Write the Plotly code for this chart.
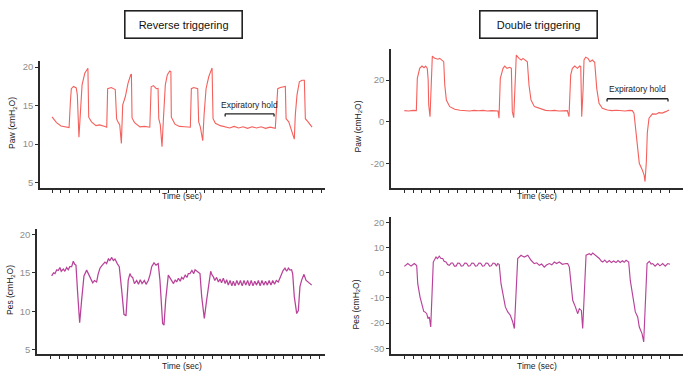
import plotly.graph_objects as go

# ---------------- data (time in s, pressure in cmH2O) ----------------
paw_rev_t = [0.0, 0.5, 1.0, 1.5, 1.9, 2.05, 2.15, 2.4, 2.7, 2.82, 3.0, 3.15, 3.35, 3.65, 3.85, 4.0, 4.09,
             4.4, 4.9, 5.3, 5.9, 6.1, 6.2, 6.6, 7.05, 7.2, 7.3, 7.55, 7.73, 7.88, 8.17, 8.47, 8.77, 8.85,
             8.92, 9.2, 9.8, 10.3, 10.9, 11.05, 11.3, 11.63, 11.82, 11.9, 12.07, 12.26, 12.41, 12.63, 12.85,
             13.12, 13.25, 13.3, 13.7, 14.2, 14.8, 15.42, 15.53, 15.8, 16.24, 16.35, 16.53, 16.8, 16.95,
             17.17, 17.47, 17.84, 17.95, 18.21, 18.76, 19.3, 19.8, 20.3, 20.8, 21.3, 21.8, 22.3, 22.8, 23.3,
             23.8, 24.3, 24.89, 25.16, 25.45, 26.01, 26.09, 26.39, 27.01, 27.12, 27.31, 27.57, 27.87, 28.13,
             28.24, 28.54, 28.99]
paw_rev_v = [13.55, 12.8, 12.35, 12.2, 12.15, 15.5, 17.2, 17.5, 17.3, 16.4, 10.9, 13.8, 17.7, 19.2, 19.5, 19.85, 13.5,
             12.9, 12.4, 12.5, 12.3, 12.2, 17.2, 17.35, 17.1, 13.3, 13.0, 12.5, 10.1, 15.1, 16.15, 17.9, 19.0, 19.1,
             13.4, 12.8, 12.25, 12.3, 12.2, 17.45, 17.6, 17.2, 17.25, 13.3, 12.5, 9.65, 13.1, 17.7, 19.0,
             19.5, 19.4, 13.5, 12.6, 12.3, 12.25, 12.2, 17.2, 17.35, 17.2, 12.9, 12.25, 10.45, 13.8,
             17.2, 18.75, 19.9, 13.3, 12.7, 12.4, 12.2, 12.1, 12.3, 12.1, 12.25, 12.05, 12.25, 12.1, 12.25,
             12.05, 12.2, 12.05, 17.2, 17.35, 17.5, 13.3, 12.9, 10.65, 13.8, 16.4, 18.1, 18.3, 18.3,
             13.3, 12.9, 12.2]

paw_dbl_t = [0.0, 0.5, 1.0, 1.36, 1.47, 1.74, 2.0, 2.23, 2.42, 2.6, 2.7, 2.76, 2.91, 3.05, 3.17, 3.44, 3.82, 4.01,
             4.3, 4.46, 4.58, 4.76, 5.14, 5.71, 6.3, 6.84, 7.4, 7.9, 8.4, 8.9, 9.4, 9.9, 10.3, 10.61, 10.72,
             10.87, 11.18, 11.37, 11.63, 11.94, 12.12, 12.23, 12.39, 12.55, 12.68, 12.99, 13.25, 13.44, 13.75,
             13.93, 14.12, 14.35, 14.73, 15.47, 16.0, 16.5, 17.0, 17.5, 18.0, 18.46, 18.65, 18.84, 19.03, 19.3,
             19.6, 19.86, 19.98, 20.09, 20.24, 20.35, 20.54, 20.8, 21.03, 21.29, 21.56, 21.79, 22.05, 22.42,
             22.99, 23.5, 24.0, 24.51, 25.0, 25.5, 25.82, 26.01, 26.24, 26.61, 26.95, 27.15, 27.26, 27.41,
             27.52, 27.71, 28.09, 28.5, 28.84, 29.2, 29.6, 29.98]
paw_dbl_v = [5.3, 5.1, 5.4, 5.3, 20.8, 25.6, 26.7, 25.9, 26.7, 25.6, 20.0, 8.0, 2.4, 15.0, 31.5, 30.4, 30.0, 30.4,
             29.3, 28.8, 17.6, 10.4, 7.2, 5.95, 5.5, 5.3, 5.1, 5.4, 5.2, 5.4, 5.1, 5.3, 5.2, 5.1, 1.6,
             20.8, 25.6, 26.7, 25.6, 26.1, 25.6, 4.8, 1.9, 20.0, 32.0, 30.4, 29.6, 30.4, 29.1,
             28.8, 17.5, 10.4, 7.2, 5.95, 5.4, 5.2, 5.4, 5.1, 5.3, 5.3, 2.4, 22.4, 25.6, 26.7,
             25.6, 26.7, 26.4, 2.4, 15.0, 29.6, 30.9, 30.4, 28.8, 29.6, 28.5, 16.0, 8.8, 6.4,
             5.6, 5.3, 5.5, 5.3, 5.1, 5.4, 5.3, 4.0, -5.0, -20.0, -23.2, -25.6, -28.8, -19.2,
             -5.2, 1.6, 3.7, 3.6, 4.3, 4.1, 4.8, 5.6]

pes_rev_t = [0.13, 0.35, 0.5, 0.7, 0.87, 1.05, 1.2, 1.43, 1.6, 1.8, 1.98, 2.15, 2.36, 2.54, 2.7, 2.84, 3.03, 3.25,
             3.47, 3.73, 4.03, 4.32, 4.5, 4.7, 4.9, 5.14, 5.3, 5.51, 5.7, 5.9, 6.07, 6.25, 6.45, 6.62, 6.82, 7.0,
             7.18, 7.44, 7.66, 7.93, 8.18, 8.41, 8.66, 8.85, 9.0, 9.15, 9.35, 9.6, 9.8, 10.0, 10.2, 10.45, 10.65,
             10.89, 11.1, 11.27, 11.4, 11.53, 11.75, 12.0, 12.19, 12.49, 12.64, 12.83, 13.12, 13.3, 13.5, 13.7,
             13.9, 14.05, 14.25, 14.45, 14.6, 14.79, 15.0, 15.2, 15.35, 15.53, 15.75, 15.95, 16.1, 16.28, 16.45,
             16.65, 16.84, 17.13, 17.39, 17.84, 18.0, 18.13, 18.3, 18.5, 18.7, 18.88, 19.05, 19.25, 19.45, 19.62,
             19.8, 20.0, 20.2, 20.36, 20.55, 20.75, 20.95, 21.15, 21.35, 21.55, 21.75, 21.95, 22.15, 22.35, 22.55,
             22.75, 22.95, 23.15, 23.35, 23.55, 23.75, 23.95, 24.15, 24.35, 24.55, 24.75, 24.95, 25.15, 25.37,
             25.56, 25.75, 25.9, 26.11, 26.3, 26.5, 26.67, 26.85, 26.97, 27.15, 27.42, 27.6, 27.78, 27.97, 28.23,
             28.45, 28.6, 28.71, 28.9, 29.09]
pes_rev_v = [14.6, 15.0, 14.9, 15.4, 15.3, 15.7, 15.2, 15.5, 15.2, 15.7, 15.4, 15.8, 15.8, 16.5, 16.1, 16.0, 12.3, 8.5,
             11.45, 14.6, 15.35, 14.7, 14.2, 13.7, 14.0, 13.8, 14.8, 15.6, 15.9, 16.1, 16.4, 16.2, 16.8, 16.6, 17.0, 16.6,
             16.8, 16.2, 15.8, 12.75, 9.6, 9.4, 14.05, 14.9, 14.5, 14.4, 13.6, 14.0, 13.5, 14.1, 13.6, 14.0, 13.5,
             14.0, 14.8, 15.8, 16.1, 16.3, 16.0, 16.2, 14.05, 8.4, 8.2, 11.45, 14.7, 14.3, 14.05, 13.6,
             14.1, 13.8, 14.3, 13.9, 14.4, 14.2, 14.7, 14.4, 14.9, 14.9, 15.3, 14.9, 15.4, 15.2, 15.0,
             14.9, 11.9, 9.06, 11.45, 15.2, 14.7, 14.5, 14.0, 14.4, 13.8, 14.2, 13.7, 14.3, 13.6, 14.1,
             13.4, 14.0, 13.3, 13.9, 13.3, 14.0, 13.4, 14.0, 13.3, 14.0, 13.4, 14.0, 13.3, 14.0, 13.3,
             13.9, 13.4, 14.0, 13.3, 14.0, 13.4, 13.9, 13.4, 14.0, 13.4, 14.0, 13.5, 14.0, 13.8,
             14.4, 15.0, 15.3, 15.6, 15.2, 15.6, 15.35, 15.4, 14.9, 11.9, 9.7, 10.1, 13.2, 14.05, 14.8,
             14.05, 13.9, 13.7, 13.5, 13.4]

pes_dbl_t = [0.0, 0.39, 0.76, 1.13, 1.40, 1.52, 1.78, 1.95, 2.08, 2.2, 2.34, 2.54, 2.68, 2.83, 2.99, 3.28, 3.59, 3.75,
             3.96, 4.15, 4.35, 4.5, 4.72, 4.9, 5.10, 5.3, 5.48, 5.67, 5.86, 6.05, 6.25, 6.45, 6.65, 6.85, 7.05, 7.25,
             7.45, 7.65, 7.85, 8.05, 8.25, 8.45, 8.65, 8.85, 9.05, 9.25, 9.45, 9.65, 9.85, 10.05, 10.25, 10.45,
             10.58, 10.75, 10.95, 11.21, 11.44, 11.71, 12.0, 12.28, 12.46, 12.84, 13.22, 13.4, 13.59, 13.98, 14.35,
             14.72, 15.0, 15.29, 15.55, 15.85, 16.1, 16.42, 16.7, 16.99, 17.25, 17.55, 17.9, 18.31, 18.5, 18.69,
             18.88, 19.07, 19.37, 19.64, 19.82, 20.05, 20.20, 20.58, 20.95, 21.15, 21.34, 21.55, 21.71, 21.9, 22.08,
             22.3, 22.47, 22.7, 22.95, 23.22, 23.45, 23.7, 23.97, 24.2, 24.45, 24.7, 24.9, 25.11, 25.41, 25.59,
             25.93, 26.16, 26.43, 26.61, 26.92, 27.11, 27.49, 27.75, 27.95, 28.13, 28.4, 28.70, 28.95, 29.26,
             29.55, 29.83, 30.09]
pes_dbl_v = [2.5, 3.6, 2.6, 3.6, 2.8, -4.4, -9.7, -12.0, -14.3, -15.4, -15.6, -16.3, -18.3, -17.6, -21.6, 4.2, 6.2, 5.6,
             6.5, 5.6, 5.6, 4.5, 4.2, 3.2, 2.9, 3.8, 3.8, 2.6, 2.6, 3.8, 3.7, 2.6, 2.7, 3.8, 3.7, 2.6,
             2.7, 3.8, 3.7, 2.6, 2.7, 3.8, 3.7, 2.6, 2.7, 3.8, 3.7, 2.6, 2.7, 3.8, 3.6, 2.6,
             3.6, 3.2, -4.4, -9.7, -13.6, -15.6, -16.9, -19.6, -22.2, 5.6, 6.9, 6.5, 6.2, 6.9, 4.9,
             3.6, 3.9, 2.9, 3.4, 2.2, 3.0, 3.6, 3.1, 4.2, 3.6, 4.2, 3.3, 3.6, 3.6, 2.2,
             -5.7, -11.0, -13.6, -16.3, -14.3, -15.0, -22.2, 6.9, 7.5, 7.0, 7.8, 7.2, 6.9, 6.0, 5.6,
             4.6, 4.2, 5.0, 4.0, 4.8, 4.0, 4.6, 4.0, 4.8, 4.0, 4.7, 4.1, 4.9, 4.2, -3.1,
             -9.7, -15.6, -17.6, -21.6, -24.2, -27.5, 3.6, 4.5, 3.4, 3.6, 2.6, 3.6, 2.7, 3.6,
             2.6, 3.6, 3.3]

time_ticks = list(range(0, 31))
rev_yticks = [5, 10, 15, 20]
paw_dbl_yticks = [-20, 0, 20]
pes_dbl_yticks = [-30, -20, -10, 0, 10, 20]

# expiratory-hold brackets (time in s, pressure level)
hold_rev = (19.3, 24.75, 13.94)
hold_dbl = (22.96, 29.86, 11.0)

# ---------------- styling ----------------
RED = "#F4605C"
MAG = "#B8429A"
FONT = "Liberation Sans, Arial, sans-serif"
AX = "#2b2b2b"
W, H = 692, 376

def xd(a, b):
    return [a / W, b / W]

def yd(top, bottom):
    return [1 - bottom / H, 1 - top / H]

def px(x):
    return x / W

def py(y):
    return 1 - y / H

fig = go.Figure()
fig.add_trace(go.Scatter(x=paw_rev_t, y=paw_rev_v, mode="lines", line=dict(color=RED, width=1.1),
                         xaxis="x", yaxis="y", showlegend=False))
fig.add_trace(go.Scatter(x=paw_dbl_t, y=paw_dbl_v, mode="lines", line=dict(color=RED, width=1.1),
                         xaxis="x2", yaxis="y2", showlegend=False))
fig.add_trace(go.Scatter(x=pes_rev_t, y=pes_rev_v, mode="lines", line=dict(color=MAG, width=1.25),
                         xaxis="x3", yaxis="y3", showlegend=False))
fig.add_trace(go.Scatter(x=pes_dbl_t, y=pes_dbl_v, mode="lines", line=dict(color=MAG, width=1.15),
                         xaxis="x4", yaxis="y4", showlegend=False))

def xaxis_cfg(domain, rng, anchor):
    return dict(domain=domain, range=rng, anchor=anchor, showline=True, linecolor=AX, linewidth=1.6,
                ticks="outside", ticklen=3, tickwidth=1, tickcolor=AX, tickvals=time_ticks,
                showticklabels=False, showgrid=False, zeroline=False, fixedrange=True)

def yaxis_cfg(domain, rng, anchor, vals):
    return dict(domain=domain, range=rng, anchor=anchor, showline=True, linecolor=AX, linewidth=1.6,
                ticks="outside", ticklen=3, tickwidth=1, tickcolor=AX, tickvals=vals,
                ticktext=[str(v) for v in vals], tickfont=dict(family=FONT, size=9.5, color="#8e8e8e"),
                showgrid=False, zeroline=False, fixedrange=True)

fig.update_layout(
    width=W, height=H, margin=dict(l=0, r=0, t=0, b=0),
    paper_bgcolor="white", plot_bgcolor="white",
    xaxis=xaxis_cfg(xd(40, 325), [-1.34, 30.43], "y"),
    yaxis=yaxis_cfg(yd(61, 188), [4.3, 20.8], "x", rev_yticks),
    xaxis2=xaxis_cfg(xd(391, 683), [-1.51, 31.56], "y2"),
    yaxis2=yaxis_cfg(yd(49, 188), [-31.9, 34.9], "x2", paw_dbl_yticks),
    xaxis3=xaxis_cfg(xd(37, 325), [-1.5, 30.57], "y3"),
    yaxis3=yaxis_cfg(yd(229, 354), [4.44, 20.7], "x3", rev_yticks),
    xaxis4=xaxis_cfg(xd(391, 683), [-1.51, 31.56], "y4"),
    yaxis4=yaxis_cfg(yd(216.7, 354), [-32.3, 22.2], "x4", pes_dbl_yticks),
)

C = dict(xanchor="center", yanchor="middle", showarrow=False)
ann = []
# panel titles in boxes
for txt, cx in [("Reverse triggering", 184), ("Double triggering", 538)]:
    ann.append(dict(text=txt, x=px(cx), y=py(25), xref="paper", yref="paper",
                    font=dict(family=FONT, size=11, color="#111"), bordercolor="#222", borderwidth=1.6,
                    borderpad=2, width=112, height=22, bgcolor="white", **C))
# x titles
for cx, cy in [(182, 196), (537, 196), (182, 365.5), (537, 365.5)]:
    ann.append(dict(text="Time (sec)", x=px(cx), y=py(cy), xref="paper", yref="paper",
                    font=dict(family=FONT, size=8.5, color="#222"), **C))
# y titles
for txt, cx, cy in [("Paw (cmH<sub>2</sub>O)", 12, 123), ("Paw (cmH<sub>2</sub>O)", 357.5, 126),
                    ("Pes (cmH<sub>2</sub>O)", 10, 290), ("Pes (cmH<sub>2</sub>O)", 355.5, 305)]:
    ann.append(dict(text=txt, x=px(cx), y=py(cy), xref="paper", yref="paper",
                    textangle=-90, font=dict(family=FONT, size=8.5, color="#222"), **C))
# expiratory hold labels
ann.append(dict(text="Expiratory hold", x=(hold_rev[0] + hold_rev[1]) / 2, y=hold_rev[2], xref="x", yref="y",
                yshift=9, font=dict(family=FONT, size=8.5, color="#222"), **C))
ann.append(dict(text="Expiratory hold", x=(hold_dbl[0] + hold_dbl[1]) / 2, y=hold_dbl[2], xref="x2", yref="y2",
                yshift=10, font=dict(family=FONT, size=8.5, color="#222"), **C))
fig.update_layout(annotations=ann)

shapes = []
for (a, b, lvl), xr, yr, tick in [(hold_rev, "x", "y", 0.35), (hold_dbl, "x2", "y2", 1.3)]:
    shapes.append(dict(type="line", xref=xr, yref=yr, x0=a, x1=b, y0=lvl, y1=lvl,
                       line=dict(color="#222", width=1.3)))
    for xe in (a, b):
        shapes.append(dict(type="line", xref=xr, yref=yr, x0=xe, x1=xe, y0=lvl, y1=lvl - tick,
                           line=dict(color="#222", width=1.3)))
fig.update_layout(shapes=shapes)

# remove the default page margin so the 692x376 figure fills the window exactly
fig.write_html("out.html", config={"displayModeBar": False},
               post_script="document.body.style.margin='0';document.body.style.overflow='hidden';")
